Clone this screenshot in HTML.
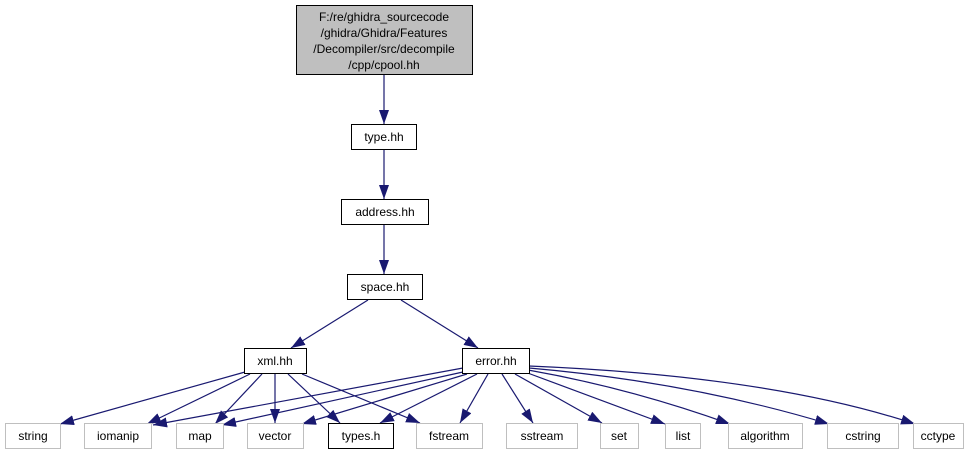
<!DOCTYPE html>
<html><head><meta charset="utf-8"><style>
html,body{margin:0;padding:0;background:#fff;}
svg{display:block;}
text{font-family:"Liberation Sans",Arial,sans-serif;font-size:12px;}
</style></head><body>
<svg width="979" height="455" viewBox="0 0 979 455" xmlns="http://www.w3.org/2000/svg">
<defs>
<marker id="a" viewBox="0 0 14 10" refX="14" refY="5" markerWidth="14" markerHeight="10" markerUnits="userSpaceOnUse" orient="auto">
<path d="M0,0 L14,5 L0,10 z" fill="#191970"/>
</marker>
</defs>
<g stroke="#191970" stroke-width="1.2" fill="none" marker-end="url(#a)">
<line x1="384" y1="75" x2="384" y2="124"/>
<line x1="384" y1="150" x2="384" y2="199"/>
<line x1="384" y1="225" x2="384" y2="274"/>
<line x1="368" y1="300" x2="291" y2="348"/>
<line x1="401" y1="300" x2="478" y2="348"/>
<line x1="245" y1="372" x2="60" y2="424"/>
<line x1="250" y1="374" x2="147" y2="424"/>
<line x1="262" y1="374" x2="215" y2="424"/>
<line x1="275" y1="374" x2="275" y2="423"/>
<line x1="288" y1="374" x2="340" y2="423"/>
<line x1="302" y1="374" x2="420" y2="423"/>
<line x1="463" y1="368" x2="153" y2="425"/>
<line x1="463" y1="372" x2="222" y2="425"/>
<line x1="467" y1="374" x2="302" y2="424"/>
<line x1="477" y1="374" x2="380" y2="423"/>
<line x1="488" y1="374" x2="460" y2="423"/>
<line x1="502" y1="374" x2="533" y2="423"/>
<line x1="515" y1="374" x2="602" y2="423"/>
<line x1="525" y1="372" x2="665" y2="424"/>
<path d="M528,370 Q630,388 730,424"/>
<path d="M529,368 Q690,382 829,424"/>
<path d="M529,366 Q770,376 915,424"/>
</g>
<g font-size="12" text-anchor="middle" fill="#000">
<rect x="296.5" y="5.5" width="176" height="69" fill="#bfbfbf" stroke="#000"/>
<text x="384" y="21">F:/re/ghidra_sourcecode</text>
<text x="384" y="37">/ghidra/Ghidra/Features</text>
<text x="384" y="53">/Decompiler/src/decompile</text>
<text x="384" y="69">/cpp/cpool.hh</text>
<rect x="351.5" y="124.5" width="65" height="25" fill="#fff" stroke="#000"/>
<text x="384" y="141">type.hh</text>
<rect x="341.5" y="199.5" width="87" height="25" fill="#fff" stroke="#000"/>
<text x="385" y="216">address.hh</text>
<rect x="347.5" y="274.5" width="75" height="25" fill="#fff" stroke="#000"/>
<text x="385" y="291">space.hh</text>
<rect x="244.5" y="348.5" width="62" height="25" fill="#fff" stroke="#000"/>
<text x="275" y="365">xml.hh</text>
<rect x="462.5" y="348.5" width="67" height="25" fill="#fff" stroke="#000"/>
<text x="496" y="365">error.hh</text>
<g fill="#fff" stroke="#bfbfbf">
<rect x="5.5" y="423.5" width="55" height="25"/>
<rect x="84.5" y="423.5" width="67" height="25"/>
<rect x="176.5" y="423.5" width="47" height="25"/>
<rect x="247.5" y="423.5" width="56" height="25"/>
<rect x="416.5" y="423.5" width="66" height="25"/>
<rect x="506.5" y="423.5" width="71" height="25"/>
<rect x="600.5" y="423.5" width="38" height="25"/>
<rect x="665.5" y="423.5" width="35" height="25"/>
<rect x="728.5" y="423.5" width="74" height="25"/>
<rect x="827.5" y="423.5" width="71" height="25"/>
<rect x="913.5" y="423.5" width="50" height="25"/>
</g>
<rect x="328.5" y="423.5" width="65" height="25" fill="#fff" stroke="#000"/>
<text x="33" y="440">string</text>
<text x="118" y="440">iomanip</text>
<text x="200" y="440">map</text>
<text x="275" y="440">vector</text>
<text x="361" y="440">types.h</text>
<text x="449" y="440">fstream</text>
<text x="542" y="440">sstream</text>
<text x="619" y="440">set</text>
<text x="683" y="440">list</text>
<text x="765" y="440">algorithm</text>
<text x="863" y="440">cstring</text>
<text x="938" y="440">cctype</text>
</g>
</svg>
</body></html>
